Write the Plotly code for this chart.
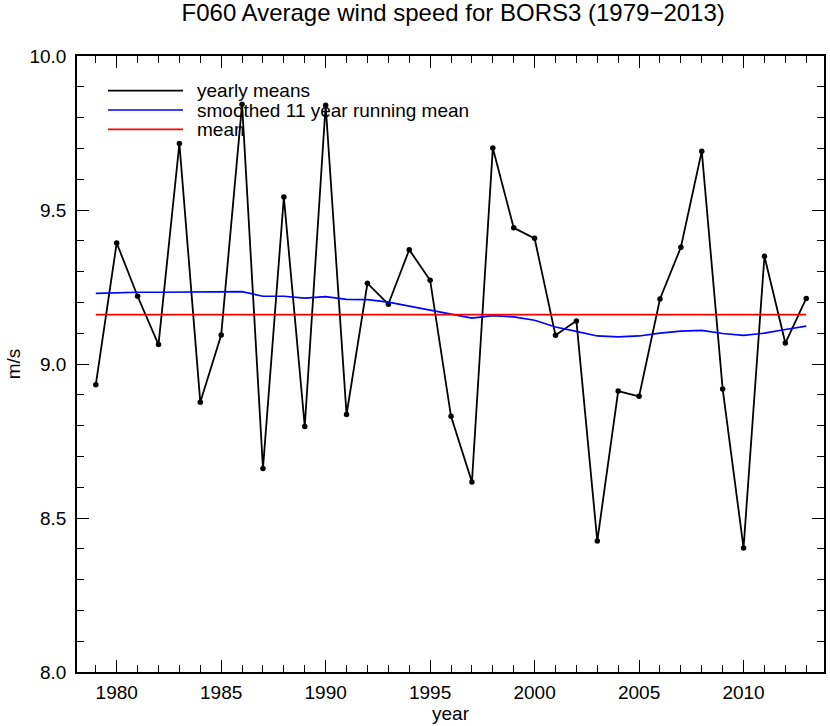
import plotly.graph_objects as go

years = list(range(1979, 2014))
yearly_means = [8.933, 9.393, 9.220, 9.063, 9.716, 8.876, 9.094, 9.843, 8.661, 9.542,
                8.797, 9.840, 8.836, 9.262, 9.194, 9.371, 9.272, 8.830, 8.617, 9.701,
                9.442, 9.408, 9.093, 9.140, 8.425, 8.912, 8.895, 9.211, 9.379, 9.691,
                8.919, 8.403, 9.350, 9.068, 9.213]
smoothed = [9.229, 9.232, 9.233, 9.233, 9.234, 9.234, 9.235, 9.235, 9.220, 9.220,
            9.214, 9.219, 9.210, 9.209, 9.201, 9.188, 9.174, 9.160, 9.149, 9.157,
            9.153, 9.142, 9.120, 9.106, 9.091, 9.088, 9.091, 9.100, 9.107, 9.109,
            9.099, 9.093, 9.100, 9.112, 9.123]
mean_value = 9.160
mean_years = [1979, 2013]

series_names = ["yearly means", "smoothed 11 year running mean", "mean"]
series_colors = ["black", "#0000ff", "#ff0000"]

FONT = "Liberation Sans, Arial, Helvetica, sans-serif"
W, H = 830, 726
ML, MR, MT, MB = 77, 6, 56, 54
PW, PH = W - ML - MR, H - MT - MB

fig = go.Figure()
fig.add_trace(go.Scatter(x=years, y=yearly_means, mode="lines+markers", name=series_names[0],
                         line=dict(color=series_colors[0], width=1.8),
                         marker=dict(color=series_colors[0], size=5.5)))
fig.add_trace(go.Scatter(x=years, y=smoothed, mode="lines", name=series_names[1],
                         line=dict(color=series_colors[1], width=1.7)))
fig.add_trace(go.Scatter(x=mean_years, y=[mean_value] * len(mean_years), mode="lines", name=series_names[2],
                         line=dict(color=series_colors[2], width=1.7)))

# legend drawn in the IDL style: long line sample followed by the label
shapes, annotations = [], []
row_y = [90.7, 110.0, 129.3]   # pixel rows (page coordinates)
for name, col, py in zip(series_names, series_colors, row_y):
    yp = 1 - (py - MT) / PH
    x0 = (108 - ML) / PW
    x1 = (183 - ML) / PW
    shapes.append(dict(type="line", xref="paper", yref="paper", x0=x0, x1=x1, y0=yp, y1=yp,
                       line=dict(color=col, width=1.7)))
    annotations.append(dict(text=name, xref="paper", yref="paper", x=(195 - ML) / PW, y=yp,
                            xanchor="left", yanchor="middle", showarrow=False,
                            font=dict(family=FONT, size=19, color="black")))

axis_common = dict(showline=True, linecolor="black", linewidth=1.5, mirror="allticks",
                   ticks="inside", ticklen=12, tickwidth=1.3, tickcolor="black",
                   showgrid=False, zeroline=False, automargin=False,
                   tickfont=dict(family=FONT, size=19, color="black"))

fig.update_layout(
    width=W, height=H,
    paper_bgcolor="white", plot_bgcolor="white",
    margin=dict(l=ML, r=MR, t=MT, b=MB),
    title=dict(text="F060 Average wind speed for BORS3 (1979\u22122013)",
               font=dict(family=FONT, size=24, color="black"),
               x=0.546, xanchor="center", xref="container",
               y=0.983, yanchor="middle", yref="container"),
    font=dict(family=FONT, color="black"),
    showlegend=False,
    shapes=shapes,
    annotations=annotations,
    xaxis=dict(range=[1978.1, 2013.85], tickmode="array",
               tickvals=[1980, 1985, 1990, 1995, 2000, 2005, 2010],
               ticktext=["1980", "1985", "1990", "1995", "2000", "2005", "2010"],
               minor=dict(dtick=1, tick0=1978, ticks="inside", ticklen=7, tickcolor="black", tickwidth=1.3),
               title=dict(text="year", font=dict(family=FONT, size=19, color="black"), standoff=0),
               ticklabelstandoff=2,
               **axis_common),
    yaxis=dict(range=[8.0, 10.0], tickmode="array",
               tickvals=[8.0, 8.5, 9.0, 9.5, 10.0],
               ticktext=["8.0", "8.5", "9.0", "9.5", "10.0"],
               minor=dict(dtick=0.1, tick0=8.0, ticks="inside", ticklen=7, tickcolor="black", tickwidth=1.3),
               title=dict(text="m/s", font=dict(family=FONT, size=19, color="black"), standoff=4),
               ticklabelstandoff=5,
               **axis_common),
)

fig.write_html("out.html", config={"displayModeBar": False},
               post_script="document.body.style.margin='0px';")
